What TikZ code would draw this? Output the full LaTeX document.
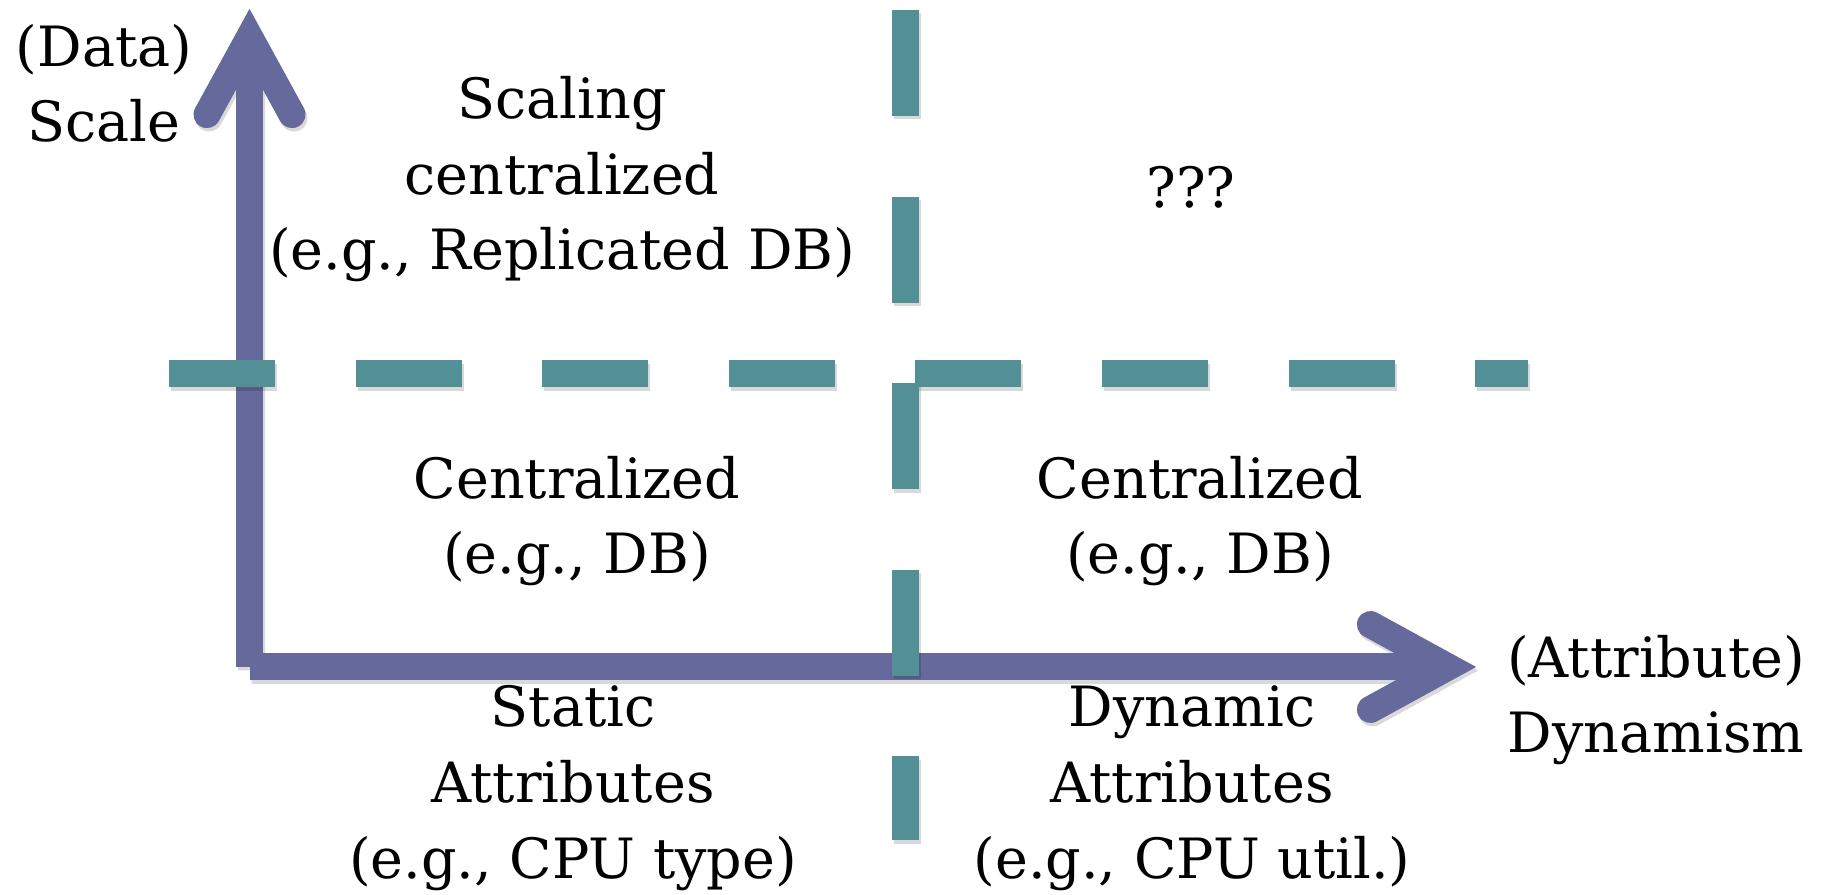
\documentclass[tikz,border=0pt]{standalone}
\usepackage{fontspec}
\setmainfont{DejaVu Serif}
\definecolor{axispurple}{RGB}{102,105,155}
\definecolor{splitteal}{RGB}{82,144,150}
\tikzset{
  axisline/.style={line width=2.7mm,color=axispurple,line join=miter},
  axisshadow/.style={line width=2.7mm,color=black,line join=miter,transform canvas={shift={(0.2mm,-0.35mm)}}},
  splitline/.style={line width=2.7mm,color=splitteal,dash pattern=on 10.6mm off 8.06mm,
    preaction={draw=black,opacity=.15,line width=2.7mm,dash pattern=on 10.6mm off 8.06mm,transform canvas={shift={(0.2mm,-0.35mm)}}}},
  quadtext/.style={font=\fontsize{15.8}{21.6}\selectfont,align=center,inner sep=0pt,anchor=base}
}
% both axes with their open arrow heads
\newcommand\axisarrows[1]{%
  \draw[#1] (origin) -- (ytip);
  \draw[#1] (origin) -- (xtip);
  \draw[#1,line cap=round] (207,114.6) -- (ytip) -- (292,114.6);
  \draw[#1,line cap=round] (1370.4,624.5) -- (xtip) -- (1370.4,709.5);
}
\begin{document}
\begin{tikzpicture}[x=0.1mm,y=-0.1mm]
  \useasboundingbox (0,0) rectangle (1829,895);

  %%%%% axes %%%%%
  \coordinate (origin) at (249.5,667);
  \coordinate (ytip) at (249.5,37);
  \coordinate (xtip) at (1448,667);
  \begin{scope}[transparency group,opacity=.15]
    \axisarrows{axisshadow}
  \end{scope}
  \axisarrows{axisline}

  %%%%% quadrant borders %%%%%
  \draw[splitline] (169,374) -- (1528,374);
  \draw[splitline] (905,10) -- (905,840);

  %%%%% texts %%%%%
  \node[quadtext] (yname) at (104,142) {(Data)\\Scale};
  \node[quadtext] (xname) at (1656,753) {(Attribute)\\Dynamism};
  \node[quadtext] (scaling) at (562,270) {Scaling\\centralized\\(e.g., Replicated DB)};
  \node[quadtext] (unknown) at (1191,208) {???};
  \node[quadtext] (centralL) at (577,574) {Centralized\\(e.g., DB)};
  \node[quadtext] (centralR) at (1200,574) {Centralized\\(e.g., DB)};
  \node[quadtext] (static) at (573,878) {Static\\Attributes\\(e.g., CPU type)};
  \node[quadtext] (dynamic) at (1192,878) {Dynamic\\Attributes\\(e.g., CPU util.)};
\end{tikzpicture}
\end{document}
